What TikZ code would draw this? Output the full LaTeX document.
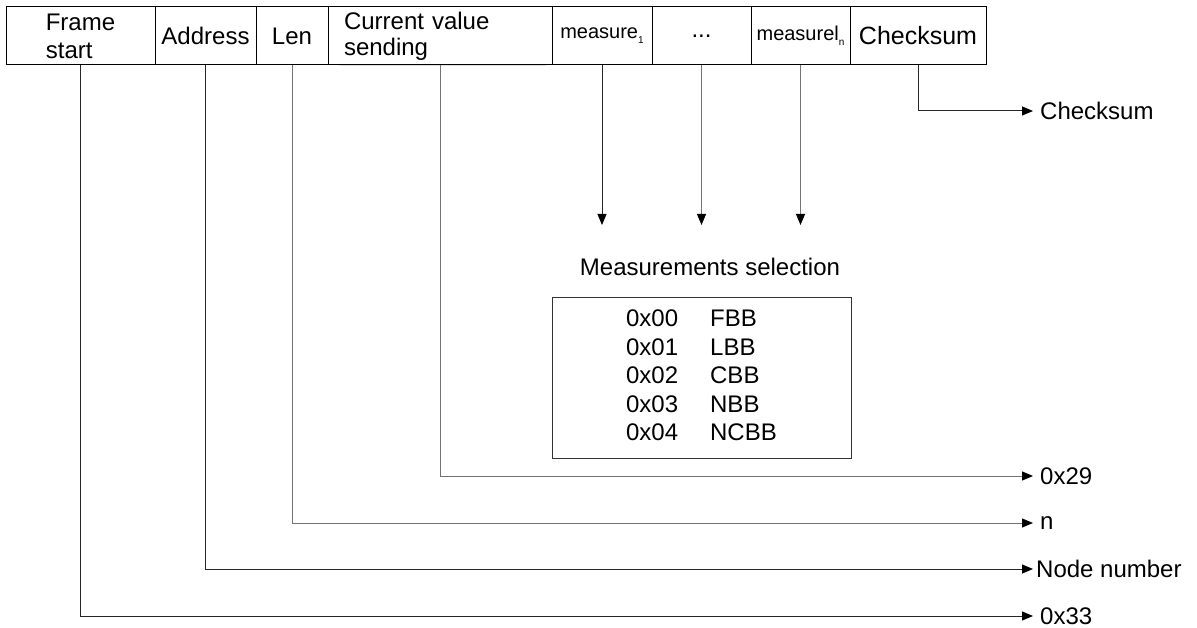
\documentclass[tikz,border=0pt]{standalone}
\usepackage{fontspec}
\setmainfont{Liberation Sans}
\usetikzlibrary{arrows.meta}
\begin{document}
\begin{tikzpicture}[x=1pt,y=-1pt,
  field/.style={draw=black, line width=1pt, rectangle, inner sep=0pt, minimum height=58pt, font=\fontsize{24}{28}\selectfont},
  mfield/.style={field, font=\fontsize{20}{24}\selectfont},
  conn/.style={line width=1pt, draw=black!85},
  lconn/.style={conn, draw=black!55},
  arr/.style={-{Triangle[length=11pt,width=9pt,color=black]}},
  outlbl/.style={anchor=west, inner ysep=0pt, inner xsep=7pt, font=\fontsize{24}{28}\selectfont}
]
\useasboundingbox (0,0) rectangle (1197,628);

% frame fields
\node[field, minimum width=149pt, align=left] (fs) at (80.5,36) {Frame\\start};
\node[field, minimum width=101pt] (addr) at (205.5,36) {Address};
\node[field, minimum width=72pt] (len) at (292,36) {Len};
\node[field, minimum width=224pt, text width=192pt, inner xsep=16pt, align=left, font=\fontsize{24}{26}\selectfont] (cur) at (440,36) {Current value\\sending};
\node[mfield, minimum width=100pt] (m1) at (602,36) {measure\raisebox{-5pt}{\fontsize{10}{12}\selectfont 1}};
\node[field, minimum width=99pt] (dots) at (701.5,36) {...};
\node[mfield, minimum width=99pt] (mn) at (800.5,36) {measurel\raisebox{-5pt}{\fontsize{10}{12}\selectfont n}};
\node[field, minimum width=136pt, font=\fontsize{25}{28}\selectfont] (cs) at (918,36) {Checksum};

% faint bottom edge of the "Current value sending" field
\draw[white, line width=1.4pt] ([xshift=1pt]cur.south west) -- ([xshift=-7pt]cur.south east);
\draw[black!12, line width=0.6pt] ([xshift=11pt]cur.south west) -- ([xshift=-7pt]cur.south east);

% output labels
\node[outlbl] (lcs) at (1033,111) {Checksum};
\node[outlbl] (l29) at (1033,476) {0x29};
\node[outlbl] (ln) at (1033,523) {n};
\node[outlbl, inner xsep=3pt] (lnn) at (1033,569) {Node number};
\node[outlbl] (l33) at (1033,616) {0x33};

% connectors to labels
\draw[conn,arr] (cs.south) |- (lcs.west);
\draw[lconn,arr] (cur.south) |- (l29.west);
\draw[lconn,arr] (len.south) |- (ln.west);
\draw[conn,arr] (addr.south) |- (lnn.west);
\draw[conn,arr] (fs.south) |- (l33.west);

% measurement arrows
\coordinate (t1) at (602,225);
\coordinate (t2) at (701.5,225);
\coordinate (t3) at (800.5,225);
\draw[conn,arr] (m1.south) -- (t1);
\draw[lconn,arr] (dots.south) -- (t2);
\draw[lconn,arr] (mn.south) -- (t3);

% measurements selection
\node[font=\fontsize{24}{28}\selectfont] (ms) at (710,267) {Measurements selection};
\node[draw=black!80, line width=1pt, minimum width=299pt, minimum height=160pt, inner sep=0pt, font=\fontsize{24}{28.5}\selectfont] (sel) at (701.5,378)
  {\begin{tabular}{@{}l@{\hspace{32pt}}l@{}}
    0x00 & FBB\\
    0x01 & LBB\\
    0x02 & CBB\\
    0x03 & NBB\\
    0x04 & NCBB
  \end{tabular}};
\end{tikzpicture}
\end{document}
